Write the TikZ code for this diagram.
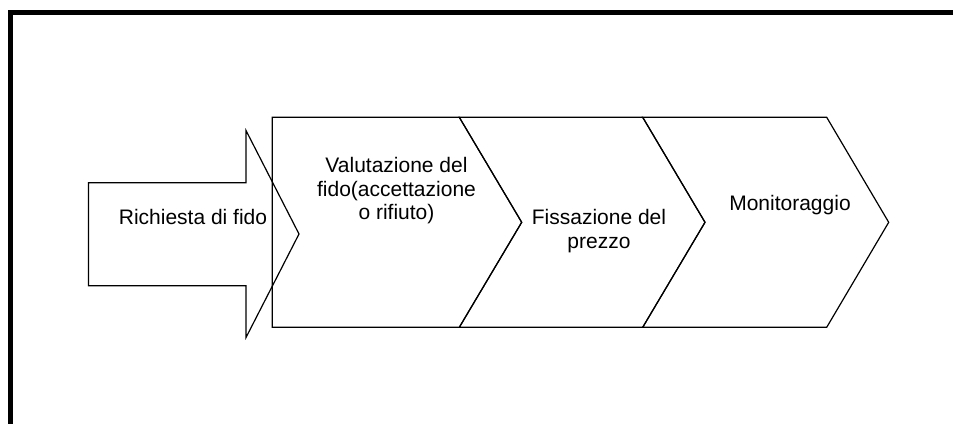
\documentclass[tikz,border=0pt]{standalone}
\usepackage{fontspec}
\setmainfont{Liberation Sans}
\begin{document}
\begin{tikzpicture}[x=1pt,y=-1pt,
  outline/.style={draw=black,line width=1.2pt,line join=miter},
  label/.style={anchor=base,align=center,inner sep=0pt,font=\fontsize{21}{23.6}\selectfont}]
\useasboundingbox (0,0) rectangle (953,423);
\clip (0,0) rectangle (953,423);
\fill[white] (0,0) rectangle (953,423);
% frame (extends past right and bottom edges)
\draw[line width=5pt,line join=miter] (10.5,440) -- (10.5,12.5) -- (970,12.5);
% block arrow
\draw[outline] (88.5,182.7) -- (246,182.7) -- (246,130.5) -- (299,234)
  -- (246,337.5) -- (246,285.7) -- (88.5,285.7) -- cycle;
% chevrons
\draw[outline] (272.3,117.3) -- (459.3,117.3) -- (521.7,222.3)
  -- (459.3,327.3) -- (272.3,327.3) -- cycle;
\draw[outline] (459.3,117.3) -- (642.7,117.3) -- (705,222.3)
  -- (642.7,327.3) -- (459.3,327.3) -- (521.7,222.3) -- cycle;
\draw[outline] (642.7,117.3) -- (826.7,117.3) -- (888.7,222.3)
  -- (826.7,327.3) -- (642.7,327.3) -- (705,222.3) -- cycle;
% texts (base anchor = baseline of the last line)
\node[label] (req) at (193,224) {Richiesta di fido};
\node[label] (val) at (396.5,219.6) {Valutazione del\\fido(accettazione\\o rifiuto)};
\node[label] (fix) at (599,248.3) {Fissazione del\\prezzo};
\node[label] (mon) at (790,210) {Monitoraggio};
\end{tikzpicture}
\end{document}
